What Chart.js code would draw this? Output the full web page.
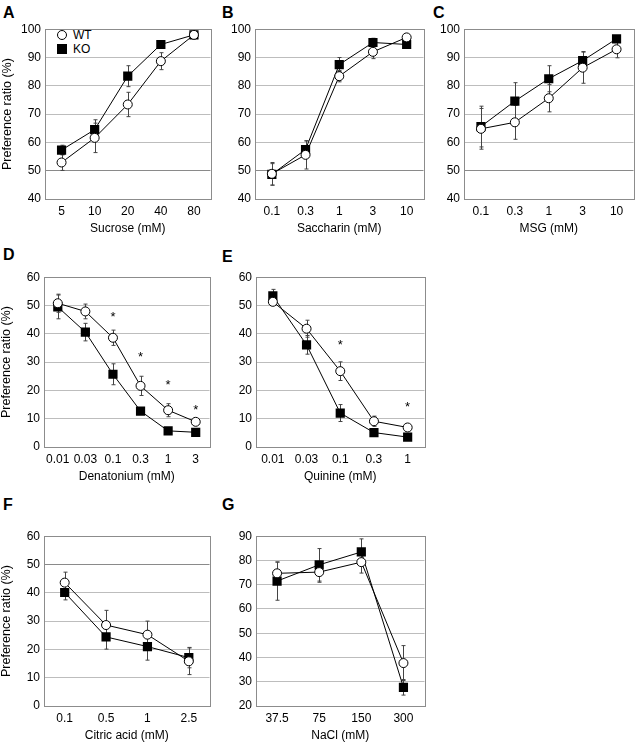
<!DOCTYPE html>
<html>
<head>
<meta charset="utf-8">
<script src="https://cdn.jsdelivr.net/npm/chart.js@4.4.0/dist/chart.umd.min.js"></script>
<style>
  body { margin:0; background:#fff; font-family:"Liberation Sans", Arial, sans-serif; }
  #wrap { position:relative; width:640px; height:745px; }
  canvas { position:absolute; }
  .lab { position:absolute; font-weight:bold; font-size:16px; color:#000; }
  .leg { position:absolute; font-size:12px; color:#000; line-height:14px; }
  .leg i { display:inline-block; width:8px; height:8px; margin-right:6px; vertical-align:-1px; }
</style>
</head>
<body>
<div id="wrap">
  <div class="lab" style="left:3px;top:4px">A</div>
  <div class="lab" style="left:222px;top:4px">B</div>
  <div class="lab" style="left:433px;top:4px">C</div>
  <div class="lab" style="left:3px;top:246px">D</div>
  <div class="lab" style="left:222px;top:248px">E</div>
  <div class="lab" style="left:3px;top:496px">F</div>
  <div class="lab" style="left:222px;top:496px">G</div>
  <div class="leg" style="left:57px;top:28px"><i style="border:1px solid #000;border-radius:50%;width:8px;height:8px;background:#fff"></i>WT</div>
  <div class="leg" style="left:57px;top:42px"><i style="background:#000;width:10px;height:10px"></i>KO</div>
</div>
<script>
// sucrose
var sucrose = ['5','10','20','40','80'];
var sucroseWT = [52.9, 61.6, 73.4, 88.7, 98.0];
var sucroseWTerr = [2.8, 5.2, 4.3, 3.0, 0.6];
var sucroseKO = [57.3, 64.5, 83.4, 94.6, 98.0];
var sucroseKOerr = [1.7, 3.5, 3.7, 1.3, 0.6];

// saccharin
var saccharin = ['0.1','0.3','1','3','10'];
var saccharinWT = [48.9, 55.6, 83.4, 92.0, 97.1];
var saccharinWTerr = [4.0, 5.0, 2.0, 2.4, 1.0];
var saccharinKO = [48.7, 57.5, 87.5, 95.3, 94.6];
var saccharinKOerr = [3.8, 3.0, 2.5, 1.5, 1.2];

// MSG
var msg = ['0.1','0.3','1','3','10'];
var msgWT = [64.8, 67.1, 75.6, 86.4, 92.9];
var msgWTerr = [7.2, 6.0, 4.8, 5.5, 3.0];
var msgKO = [65.6, 74.6, 82.5, 88.9, 96.6];
var msgKOerr = [7.2, 6.5, 4.6, 3.2, 0.8];

// denatonium
var denatonium = ['0.01','0.03','0.1','0.3','1','3'];
var denatoniumWT = [50.8, 47.9, 38.6, 21.6, 13.0, 8.9];
var denatoniumWTerr = [3.2, 2.6, 2.7, 3.4, 2.3, 0.8];
var denatoniumKO = [49.5, 40.6, 25.7, 12.7, 5.7, 5.2];
var denatoniumKOerr = [4.2, 3.1, 3.7, 1.0, 0.8, 0.6];
var denatoniumStars = [null, null, 47, 32.8, 22.8, 14.1];

// quinine
var quinine = ['0.01','0.03','0.1','0.3','1'];
var quinineWT = [51.3, 41.8, 26.8, 9.1, 6.9];
var quinineWTerr = [1.0, 3.0, 3.3, 1.8, 0.6];
var quinineKO = [53.4, 36.1, 12.0, 5.1, 3.5];
var quinineKOerr = [2.3, 3.3, 3.0, 0.6, 0.5];
var quinineStars = [null, null, 37, null, 15];

// citric acid
var citric = ['0.1','0.5','1','2.5'];
var citricWT = [43.6, 28.6, 25.2, 15.8];
var citricWTerr = [3.7, 5.2, 4.8, 4.7];
var citricKO = [40.1, 24.4, 21.0, 17.1];
var citricKOerr = [2.6, 4.3, 4.8, 3.6];

// NaCl
var nacl = ['37.5','75','150','300'];
var naclWT = [74.7, 75.2, 79.3, 37.7];
var naclWTerr = [4.6, 4.2, 4.5, 7.2];
var naclKO = [71.5, 78.2, 83.5, 27.7];
var naclKOerr = [7.9, 6.7, 5.4, 3.2];

var FONT = "'Liberation Sans', Arial, sans-serif";

// error bars, frame and stars
var extras = {
  id: 'extras',
  beforeDatasetsDraw: function (chart) {
    var ctx = chart.ctx, y = chart.scales.y;
    ctx.save();
    ctx.strokeStyle = '#444';
    ctx.lineWidth = 1;
    chart.data.datasets.forEach(function (ds, di) {
      if (!ds.err) return;
      var meta = chart.getDatasetMeta(di);
      meta.data.forEach(function (pt, i) {
        var x = Math.round(pt.x) + 0.5;
        var y1 = y.getPixelForValue(ds.data[i] + ds.err[i]);
        var y2 = y.getPixelForValue(ds.data[i] - ds.err[i]);
        ctx.beginPath();
        ctx.moveTo(x, y1); ctx.lineTo(x, y2);
        ctx.moveTo(x - 2, y1); ctx.lineTo(x + 2, y1);
        ctx.moveTo(x - 2, y2); ctx.lineTo(x + 2, y2);
        ctx.stroke();
      });
    });
    ctx.restore();
  },
  afterDatasetsDraw: function (chart, args, opts) {
    var ctx = chart.ctx, a = chart.chartArea;
    ctx.save();
    ctx.strokeStyle = '#8c8c8c';
    ctx.lineWidth = 1;
    ctx.strokeRect(Math.round(a.left) + 0.5, Math.round(a.top) + 0.5, Math.round(a.right - a.left), Math.round(a.bottom - a.top));
    if (opts.stars) {
      ctx.fillStyle = '#000';
      ctx.font = '13px ' + FONT;
      ctx.textAlign = 'center';
      ctx.textBaseline = 'middle';
      var x = chart.scales.x;
      opts.stars.forEach(function (v, i) {
        if (v == null) return;
        ctx.fillText('*', x.getPixelForValue(i), chart.scales.y.getPixelForValue(v) + 3);
      });
    }
    ctx.restore();
  }
};

function panel(o) {
  var yw = o.yTitle ? 45 : 31, padTop = 8, padRight = 4, xh = 37;
  var c = document.createElement('canvas');
  var w = yw + (o.R - o.L) + padRight, h = padTop + (o.B - o.T) + xh;
  c.width = w; c.height = h;
  c.style.left = (o.L - yw) + 'px';
  c.style.top = (o.T - padTop) + 'px';
  c.style.width = w + 'px'; c.style.height = h + 'px';
  document.getElementById('wrap').appendChild(c);

  new Chart(c.getContext('2d'), {
    type: 'line',
    data: {
      labels: o.labels,
      datasets: [
        { data: o.wt, err: o.wtErr, borderColor: '#000', borderWidth: 1, pointStyle: 'circle', pointRadius: 4.5,
          pointBackgroundColor: '#fff', pointBorderColor: '#000', pointBorderWidth: 1, tension: 0 },
        { data: o.ko, err: o.koErr, borderColor: '#000', borderWidth: 1, pointStyle: 'rect', pointRadius: 6.5,
          pointBackgroundColor: '#000', pointBorderColor: '#000', pointBorderWidth: 0, tension: 0 }
      ]
    },
    options: {
      responsive: false,
      animation: false,
      layout: { padding: { top: padTop, right: padRight, left: 0, bottom: 0 } },
      plugins: { legend: { display: false }, tooltip: { enabled: false }, extras: { stars: o.stars } },
      scales: {
        x: {
          offset: true,
          grid: { display: false, drawTicks: false },
          border: { display: false },
          ticks: { color: '#000', padding: 5, font: { family: FONT, size: 12 }, maxRotation: 0 },
          title: { display: true, text: o.xTitle, color: '#000', font: { family: FONT, size: 12 }, padding: 0 },
          afterFit: function (s) { s.height = xh; }
        },
        y: {
          min: o.min, max: o.max,
          grid: { drawTicks: false, color: function (ctx) {
            return (o.mark != null && ctx.tick && ctx.tick.value === o.mark) ? '#8a8a8a' : '#bdbdbd';
          } },
          border: { display: false },
          ticks: { stepSize: 10, color: '#000', padding: 4, font: { family: FONT, size: 12 } },
          title: { display: !!o.yTitle, text: 'Preference ratio (%)', color: '#000', font: { family: FONT, size: 12.5 }, padding: 0 },
          afterFit: function (s) { s.width = yw; }
        }
      }
    },
    plugins: [extras]
  });
}

panel({ L: 45, T: 26, R: 213, B: 199, min: 40, max: 100, mark: 50, yTitle: true, labels: sucrose, xTitle: 'Sucrose (mM)',
  wt: sucroseWT, wtErr: sucroseWTerr, ko: sucroseKO, koErr: sucroseKOerr });
panel({ L: 255, T: 26, R: 426, B: 199, min: 40, max: 100, mark: 50, labels: saccharin, xTitle: 'Saccharin (mM)',
  wt: saccharinWT, wtErr: saccharinWTerr, ko: saccharinKO, koErr: saccharinKOerr });
panel({ L: 464, T: 26, R: 636, B: 199, min: 40, max: 100, mark: 50, labels: msg, xTitle: 'MSG (mM)',
  wt: msgWT, wtErr: msgWTerr, ko: msgKO, koErr: msgKOerr });
panel({ L: 44, T: 274, R: 212, B: 447, min: 0, max: 60, yTitle: true, labels: denatonium, xTitle: 'Denatonium (mM)',
  wt: denatoniumWT, wtErr: denatoniumWTerr, ko: denatoniumKO, koErr: denatoniumKOerr, stars: denatoniumStars });
panel({ L: 256, T: 274, R: 427, B: 447, min: 0, max: 60, labels: quinine, xTitle: 'Quinine (mM)',
  wt: quinineWT, wtErr: quinineWTerr, ko: quinineKO, koErr: quinineKOerr, stars: quinineStars });
panel({ L: 44, T: 533, R: 212, B: 706, min: 0, max: 60, mark: 50, yTitle: true, labels: citric, xTitle: 'Citric acid (mM)',
  wt: citricWT, wtErr: citricWTerr, ko: citricKO, koErr: citricKOerr });
panel({ L: 256, T: 533, R: 427, B: 706, min: 20, max: 90, labels: nacl, xTitle: 'NaCl (mM)',
  wt: naclWT, wtErr: naclWTerr, ko: naclKO, koErr: naclKOerr });
</script>
</body>
</html>
